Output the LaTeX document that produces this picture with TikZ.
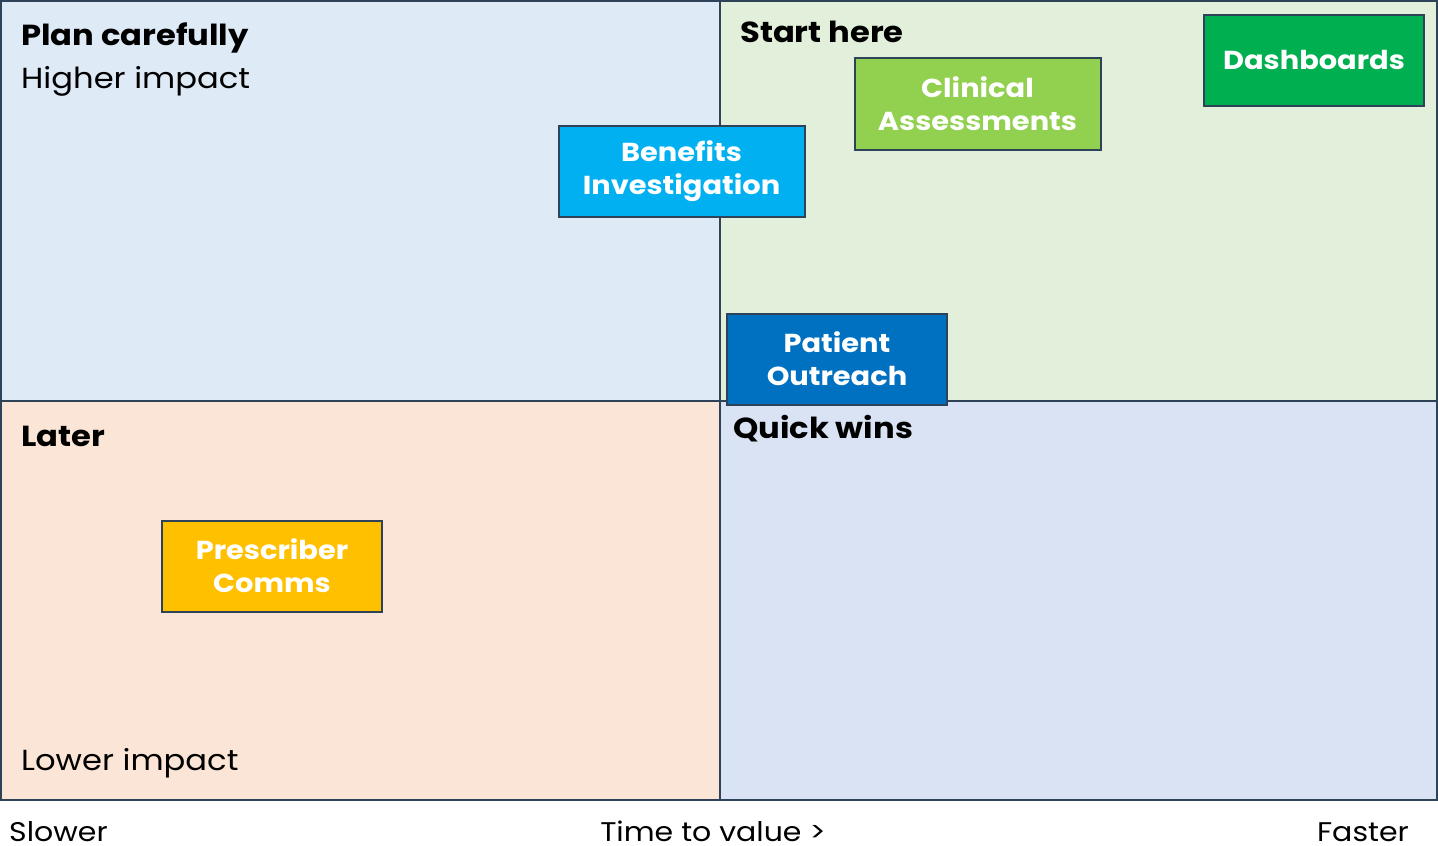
\documentclass[tikz,border=0pt]{standalone}
\usepackage{fontspec}
\setmainfont{Poppins}[FakeStretch=1.11]
\begin{document}
\definecolor{edge}{HTML}{2E4358}
\definecolor{qtl}{HTML}{DEEAF6}
\definecolor{qtr}{HTML}{E2EFDA}
\definecolor{qbl}{HTML}{FBE5D6}
\definecolor{qbr}{HTML}{DAE3F3}
\definecolor{cben}{HTML}{00B0F0}
\definecolor{ccli}{HTML}{92D050}
\definecolor{cdash}{HTML}{00B050}
\definecolor{cpat}{HTML}{0070C0}
\definecolor{cpre}{HTML}{FFC000}
\begin{tikzpicture}[x=1pt,y=-1pt,
  quad/.style={draw=edge,line width=2pt},
  heading/.style={anchor=base west,inner sep=0pt,font=\fontsize{29}{34}\selectfont\bfseries},
  plain/.style={anchor=base west,inner sep=0pt,font=\fontsize{29}{34}\selectfont},
  axis/.style={inner sep=0pt,font=\fontsize{27}{30}\selectfont},
  card/.style={draw=edge,line width=2pt,text=white,align=center,inner sep=0pt,
    font=\fontsize{26}{33}\selectfont\bfseries}]
\useasboundingbox (0,0) rectangle (1438,846);
\fill[white] (0,0) rectangle (1438,846);
% quadrants
\fill[qtl] (1,1) rectangle (720,401);
\fill[qtr] (720,1) rectangle (1437,401);
\fill[qbl] (1,401) rectangle (720,800);
\fill[qbr] (720,401) rectangle (1437,800);
\draw[quad] (1,1) rectangle (1437,800);
\draw[quad] (720,1) -- (720,800);
\draw[quad] (1,401) -- (1437,401);
% quadrant titles
\node[heading] (plan) at (21,45) {Plan carefully};
\node[plain] (higher) at (21,88) {Higher impact};
\node[heading] (start) at (740,42) {Start here};
\node[heading] (later) at (21,446) {Later};
\node[heading] (quick) at (733,438) {Quick wins};
\node[plain] (lower) at (21,770) {Lower impact};
% initiative cards
\node[card,fill=cben,minimum width=246pt,minimum height=91pt] (benefits) at (681.5,171) {Benefits\\Investigation};
\node[card,fill=ccli,minimum width=246pt,minimum height=92pt] (clinical) at (977.5,103.5) {Clinical\\Assessments};
\node[card,fill=cdash,minimum width=220pt,minimum height=91pt] (dash) at (1314,60) {Dashboards};
\node[card,fill=cpat,minimum width=220pt,minimum height=91pt] (patient) at (837,359) {Patient\\Outreach};
\node[card,fill=cpre,minimum width=220pt,minimum height=91pt] (prescriber) at (272,566) {Prescriber\\Comms};
% horizontal axis
\node[axis,anchor=base west] (slower) at (9,841) {Slower};
\node[axis,anchor=base] (ttv) at (713,841) {Time to value >};
\node[axis,anchor=base east] (faster) at (1409,841) {Faster};
\end{tikzpicture}
\end{document}
